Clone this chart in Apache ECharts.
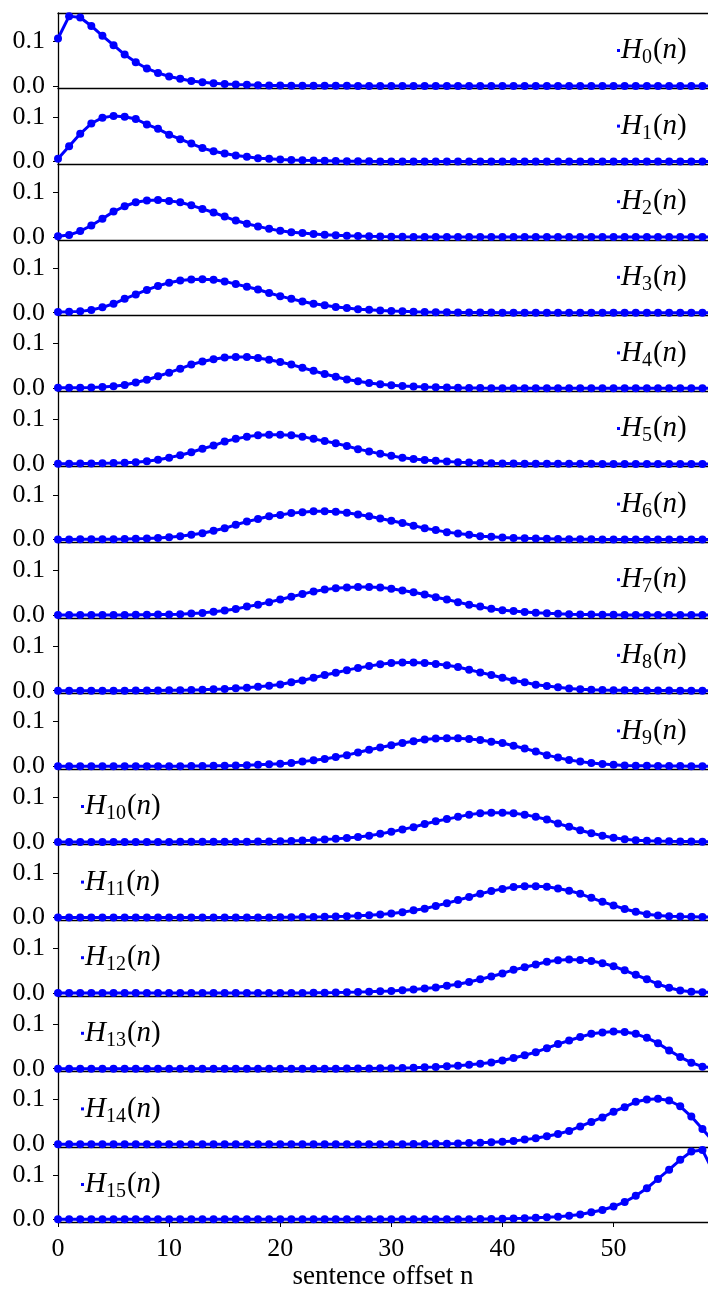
<!DOCTYPE html>
<html>
<head>
<meta charset="utf-8">
<script src="https://cdn.jsdelivr.net/npm/echarts@6/dist/echarts.min.js"></script>
<style>
  html, body { margin: 0; padding: 0; background: #fff; }
  #chart { width: 708px; height: 1291px; }
</style>
</head>
<body>
<div id="chart"></div>
<script>
// sentence offsets n
const offsets = [0, 1, 2, 3, 4, 5, 6, 7, 8, 9, 10, 11, 12, 13, 14, 15, 16, 17, 18, 19,
  20, 21, 22, 23, 24, 25, 26, 27, 28, 29, 30, 31, 32, 33, 34, 35, 36, 37, 38, 39,
  40, 41, 42, 43, 44, 45, 46, 47, 48, 49, 50, 51, 52, 53, 54, 55, 56, 57, 58, 59];

const h0 = [0.106, 0.156, 0.153, 0.134, 0.112, 0.091, 0.070, 0.053, 0.039, 0.029,
  0.021, 0.016, 0.011, 0.008, 0.006, 0.0045, 0.0033, 0.0024, 0.0017, 0.0012,
  0.0009, 0.0006, 0.0004, 0.0003, 0.0002, 0.0001, 0.0001, 0, 0, 0,
  0, 0, 0, 0, 0, 0, 0, 0, 0, 0, 0, 0, 0, 0, 0, 0, 0, 0, 0, 0,
  0, 0, 0, 0, 0, 0, 0, 0, 0, 0];
const h1 = [0.006, 0.034, 0.062, 0.085, 0.098, 0.102, 0.100, 0.095, 0.083, 0.073,
  0.060, 0.050, 0.040, 0.030, 0.023, 0.018, 0.0135, 0.0105, 0.0075, 0.006,
  0.0045, 0.0035, 0.0027, 0.002, 0.0015, 0.001, 0.0008, 0.0006, 0.0004, 0.0003,
  0.0002, 0.0001, 0.0001, 0, 0, 0, 0, 0, 0, 0, 0, 0, 0, 0, 0, 0, 0, 0, 0, 0,
  0, 0, 0, 0, 0, 0, 0, 0, 0, 0];
const h2 = [0.002, 0.0045, 0.0135, 0.026, 0.041, 0.057, 0.069, 0.078, 0.082, 0.083,
  0.081, 0.078, 0.071, 0.063, 0.055, 0.046, 0.037, 0.030, 0.024, 0.0185,
  0.014, 0.011, 0.009, 0.0068, 0.0053, 0.004, 0.003, 0.0023, 0.0017, 0.0012,
  0.0009, 0.0006, 0.0004, 0.0003, 0.0002, 0.0001, 0.0001, 0, 0, 0,
  0, 0, 0, 0, 0, 0, 0, 0, 0, 0, 0, 0, 0, 0, 0, 0, 0, 0, 0, 0];
const h3 = [0.0015, 0.002, 0.003, 0.006, 0.012, 0.020, 0.031, 0.041, 0.051, 0.060,
  0.067, 0.072, 0.074, 0.075, 0.0735, 0.070, 0.064, 0.058, 0.052, 0.044,
  0.037, 0.031, 0.025, 0.020, 0.0165, 0.0127, 0.0105, 0.008, 0.0065, 0.005,
  0.004, 0.003, 0.0023, 0.0017, 0.0013, 0.001, 0.0007, 0.0005, 0.0004, 0.0003,
  0.0002, 0.0001, 0.0001, 0, 0, 0, 0, 0, 0, 0, 0, 0, 0, 0, 0, 0, 0, 0, 0, 0];
const h4 = [0.001, 0.001, 0.0015, 0.002, 0.003, 0.0045, 0.0075, 0.013, 0.019, 0.027,
  0.035, 0.044, 0.053, 0.060, 0.065, 0.069, 0.070, 0.070, 0.068, 0.064,
  0.059, 0.053, 0.046, 0.039, 0.032, 0.026, 0.0195, 0.016, 0.012, 0.009,
  0.0068, 0.0053, 0.004, 0.003, 0.0022, 0.0016, 0.0012, 0.0009, 0.0006, 0.0004,
  0.0003, 0.0002, 0.0002, 0.0001, 0.0001, 0, 0, 0, 0, 0, 0, 0, 0, 0, 0, 0, 0, 0, 0, 0];
const h5 = [0.0005, 0.0005, 0.0007, 0.001, 0.0013, 0.0018, 0.0025, 0.0035, 0.006, 0.0095,
  0.014, 0.0195, 0.026, 0.034, 0.041, 0.050, 0.056, 0.061, 0.064, 0.065,
  0.065, 0.064, 0.061, 0.056, 0.051, 0.046, 0.040, 0.033, 0.028, 0.0225,
  0.018, 0.014, 0.011, 0.009, 0.0068, 0.0053, 0.004, 0.003, 0.0022, 0.0016,
  0.0012, 0.0009, 0.0006, 0.0004, 0.0003, 0.0002, 0.0002, 0.0001, 0.0001, 0,
  0, 0, 0, 0, 0, 0, 0, 0, 0, 0];
const h6 = [0.0003, 0.0003, 0.0004, 0.0005, 0.0006, 0.0008, 0.001, 0.0015, 0.002, 0.0035,
  0.005, 0.0075, 0.0105, 0.014, 0.0195, 0.025, 0.033, 0.040, 0.046, 0.052,
  0.055, 0.059, 0.061, 0.063, 0.063, 0.062, 0.060, 0.056, 0.052, 0.047,
  0.042, 0.037, 0.031, 0.025, 0.021, 0.0165, 0.0135, 0.0105, 0.0075, 0.006,
  0.0045, 0.0035, 0.0026, 0.002, 0.0015, 0.001, 0.0008, 0.0006, 0.0004, 0.0003,
  0.0002, 0.0002, 0.0001, 0.0001, 0, 0, 0, 0, 0, 0];
const h7 = [0.0001, 0.0001, 0.0002, 0.0002, 0.0003, 0.0004, 0.0005, 0.0007, 0.0009, 0.0012,
  0.0015, 0.002, 0.0035, 0.005, 0.0075, 0.0105, 0.0135, 0.019, 0.023, 0.029,
  0.035, 0.041, 0.047, 0.053, 0.057, 0.060, 0.062, 0.063, 0.063, 0.062,
  0.059, 0.055, 0.051, 0.046, 0.040, 0.035, 0.029, 0.023, 0.019, 0.014,
  0.011, 0.009, 0.0068, 0.0053, 0.004, 0.003, 0.0022, 0.0016, 0.0012, 0.0009,
  0.0006, 0.0004, 0.0003, 0.0002, 0.0002, 0.0001, 0.0001, 0, 0, 0];
const h8 = [0, 0, 0, 0.0001, 0.0001, 0.0002, 0.0002, 0.0003, 0.0004, 0.0006,
  0.0009, 0.0012, 0.0016, 0.0022, 0.003, 0.004, 0.0053, 0.0068, 0.009, 0.011,
  0.014, 0.019, 0.023, 0.029, 0.035, 0.040, 0.046, 0.051, 0.055, 0.059,
  0.062, 0.063, 0.063, 0.062, 0.060, 0.057, 0.053, 0.047, 0.041, 0.035,
  0.029, 0.023, 0.019, 0.0135, 0.0105, 0.0075, 0.005, 0.0035, 0.002, 0.0015,
  0.0012, 0.0009, 0.0007, 0.0005, 0.0004, 0.0003, 0.0002, 0.0002, 0.0001, 0.0001];
const h9 = [0, 0, 0, 0, 0, 0, 0.0001, 0.0001, 0.0002, 0.0002,
  0.0003, 0.0004, 0.0006, 0.0008, 0.001, 0.0015, 0.002, 0.0026, 0.0035, 0.0045,
  0.006, 0.0075, 0.0105, 0.0135, 0.0165, 0.021, 0.025, 0.031, 0.037, 0.042,
  0.047, 0.052, 0.056, 0.060, 0.062, 0.063, 0.063, 0.061, 0.059, 0.055,
  0.052, 0.046, 0.040, 0.033, 0.025, 0.0195, 0.014, 0.0105, 0.0075, 0.005,
  0.0035, 0.002, 0.0015, 0.001, 0.0008, 0.0006, 0.0005, 0.0004, 0.0003, 0.0003];
const h10 = [0, 0, 0, 0, 0, 0, 0, 0, 0, 0,
  0, 0.0001, 0.0001, 0.0002, 0.0002, 0.0003, 0.0004, 0.0006, 0.0009, 0.0012,
  0.0016, 0.0022, 0.003, 0.004, 0.0053, 0.0068, 0.009, 0.011, 0.014, 0.018,
  0.0225, 0.028, 0.033, 0.040, 0.046, 0.051, 0.056, 0.061, 0.064, 0.065,
  0.065, 0.064, 0.061, 0.056, 0.050, 0.041, 0.034, 0.026, 0.0195, 0.014,
  0.0095, 0.006, 0.0035, 0.0025, 0.0018, 0.0013, 0.001, 0.0007, 0.0005, 0.0005];
const h11 = [0, 0, 0, 0, 0, 0, 0, 0, 0, 0,
  0, 0, 0, 0, 0, 0.0001, 0.0001, 0.0002, 0.0002, 0.0003,
  0.0004, 0.0006, 0.0009, 0.0012, 0.0016, 0.0022, 0.003, 0.004, 0.0053, 0.0068,
  0.009, 0.012, 0.016, 0.0195, 0.026, 0.032, 0.039, 0.046, 0.053, 0.059,
  0.064, 0.068, 0.070, 0.070, 0.069, 0.065, 0.060, 0.053, 0.044, 0.035,
  0.027, 0.019, 0.013, 0.0075, 0.0045, 0.003, 0.002, 0.0015, 0.001, 0.001];
const h12 = [0, 0, 0, 0, 0, 0, 0, 0, 0, 0,
  0, 0, 0, 0, 0, 0, 0, 0.0001, 0.0001, 0.0002,
  0.0003, 0.0004, 0.0005, 0.0007, 0.001, 0.0013, 0.0017, 0.0023, 0.003, 0.004,
  0.005, 0.0065, 0.008, 0.0105, 0.0127, 0.0165, 0.020, 0.025, 0.031, 0.037,
  0.044, 0.052, 0.058, 0.064, 0.070, 0.0735, 0.075, 0.074, 0.072, 0.067,
  0.060, 0.051, 0.041, 0.031, 0.020, 0.012, 0.006, 0.003, 0.002, 0.0015];
const h13 = [0, 0, 0, 0, 0, 0, 0, 0, 0, 0,
  0, 0, 0, 0, 0, 0, 0, 0, 0, 0,
  0, 0, 0, 0.0001, 0.0001, 0.0002, 0.0003, 0.0004, 0.0006, 0.0009,
  0.0012, 0.0017, 0.0023, 0.003, 0.004, 0.0053, 0.0068, 0.009, 0.011, 0.014,
  0.0185, 0.024, 0.030, 0.037, 0.046, 0.055, 0.063, 0.071, 0.078, 0.081,
  0.083, 0.082, 0.078, 0.069, 0.057, 0.041, 0.026, 0.0135, 0.0045, 0.002];
const h14 = [0, 0, 0, 0, 0, 0, 0, 0, 0, 0,
  0, 0, 0, 0, 0, 0, 0, 0, 0, 0,
  0, 0, 0, 0, 0, 0, 0, 0.0001, 0.0001, 0.0002,
  0.0003, 0.0004, 0.0006, 0.0008, 0.001, 0.0015, 0.002, 0.0027, 0.0035, 0.0045,
  0.006, 0.0075, 0.0105, 0.0135, 0.018, 0.023, 0.030, 0.040, 0.050, 0.060,
  0.073, 0.083, 0.095, 0.100, 0.102, 0.098, 0.085, 0.062, 0.034, 0.006];
const h15 = [0, 0, 0, 0, 0, 0, 0, 0, 0, 0,
  0, 0, 0, 0, 0, 0, 0, 0, 0, 0,
  0, 0, 0, 0, 0, 0, 0, 0, 0, 0,
  0, 0, 0, 0.0001, 0.0001, 0.0002, 0.0003, 0.0004, 0.0006, 0.0009,
  0.0012, 0.0017, 0.0024, 0.0033, 0.0045, 0.006, 0.008, 0.011, 0.016, 0.021,
  0.029, 0.039, 0.053, 0.070, 0.091, 0.112, 0.134, 0.153, 0.156, 0.106];

const seriesNames = ['H0', 'H1', 'H2', 'H3', 'H4', 'H5', 'H6', 'H7',
  'H8', 'H9', 'H10', 'H11', 'H12', 'H13', 'H14', 'H15'];
const subscripts = ['0', '1', '2', '3', '4', '5', '6', '7',
  '8', '9', '10', '11', '12', '13', '14', '15'];
const allSeries = [h0, h1, h2, h3, h4, h5, h6, h7, h8, h9, h10, h11, h12, h13, h14, h15];
const xTicks = [0, 10, 20, 30, 40, 50];
const yTicks = [0, 0.1];

const chart = echarts.init(document.getElementById('chart'));

const plotLeft = 58;
const plotWidth = 650;
const firstTop = 13;
const panelH = 75.6;
const yMin = -0.006, yMax = 0.163;
const xMax = 58.5;
const serif = 'Liberation Serif';
const blue = '#0000ff';
const nPanels = allSeries.length;

let grids = [], xAxes = [], yAxes = [], series = [], legends = [];

for (let k = 0; k < nPanels; k++) {
    const top = firstTop + panelH * k;
    const isLast = k === nPanels - 1;
    grids.push({ left: plotLeft, top: top, width: plotWidth, height: panelH });

    xAxes.push({
        type: 'value', gridIndex: k, min: 0, max: xMax,
        axisLine: { show: true, onZero: false, lineStyle: { color: '#000', width: 1.3 } },
        axisTick: { show: isLast, length: 5, lineStyle: { color: '#000' }, customValues: xTicks },
        axisLabel: {
            show: isLast, customValues: xTicks, margin: 14,
            fontFamily: serif, fontSize: 26, color: '#000'
        },
        splitLine: { show: false },
        name: isLast ? 'sentence offset n' : '',
        nameLocation: 'middle', nameGap: 41,
        nameTextStyle: { fontFamily: serif, fontSize: 27, color: '#000' }
    });

    yAxes.push({
        type: 'value', gridIndex: k, min: yMin, max: yMax,
        axisLine: { show: true, onZero: false, lineStyle: { color: '#000', width: 1.3 } },
        axisTick: { show: true, length: 5, lineStyle: { color: '#000' }, customValues: yTicks },
        axisLabel: {
            customValues: yTicks, margin: 13,
            fontFamily: serif, fontSize: 26, color: '#000',
            formatter: v => v.toFixed(1)
        },
        splitLine: { show: false }
    });

    const values = allSeries[k];
    series.push({
        name: seriesNames[k],
        type: 'line',
        xAxisIndex: k, yAxisIndex: k,
        data: offsets.map((n, i) => [n, values[i]]),
        symbol: 'circle', symbolSize: 8,
        lineStyle: { color: blue, width: 3 },
        itemStyle: { color: blue },
        clip: true,
        animation: false
    });

    // legends sit on the right for the first ten panels, left for the rest
    legends.push({
        data: [seriesNames[k]],
        left: k < 10 ? 617 : 81,
        top: top + 38 - 15,
        icon: 'rect', itemWidth: 3, itemHeight: 3, itemGap: 0,
        padding: 0,
        selectedMode: false,
        formatter: () => '{i|H}{s|' + subscripts[k] + '}{r|(}{i|n}{r|)}',
        textStyle: {
            padding: [0, 0, 0, -4],
            rich: {
                i: { fontFamily: serif, fontStyle: 'italic', fontSize: 29, color: '#000' },
                s: { fontFamily: serif, fontSize: 20, color: '#000', padding: [15, 1, 0, 0] },
                r: { fontFamily: serif, fontSize: 29, color: '#000' }
            }
        }
    });
}

// top border of the first panel
xAxes.push({
    type: 'value', gridIndex: 0, min: 0, max: xMax, position: 'top',
    axisLine: { show: true, onZero: false, lineStyle: { color: '#000', width: 1.3 } },
    axisTick: { show: false }, axisLabel: { show: false }, splitLine: { show: false }
});

chart.setOption({
    animation: false,
    backgroundColor: '#fff',
    grid: grids,
    xAxis: xAxes,
    yAxis: yAxes,
    legend: legends,
    series: series
});
</script>
</body>
</html>
